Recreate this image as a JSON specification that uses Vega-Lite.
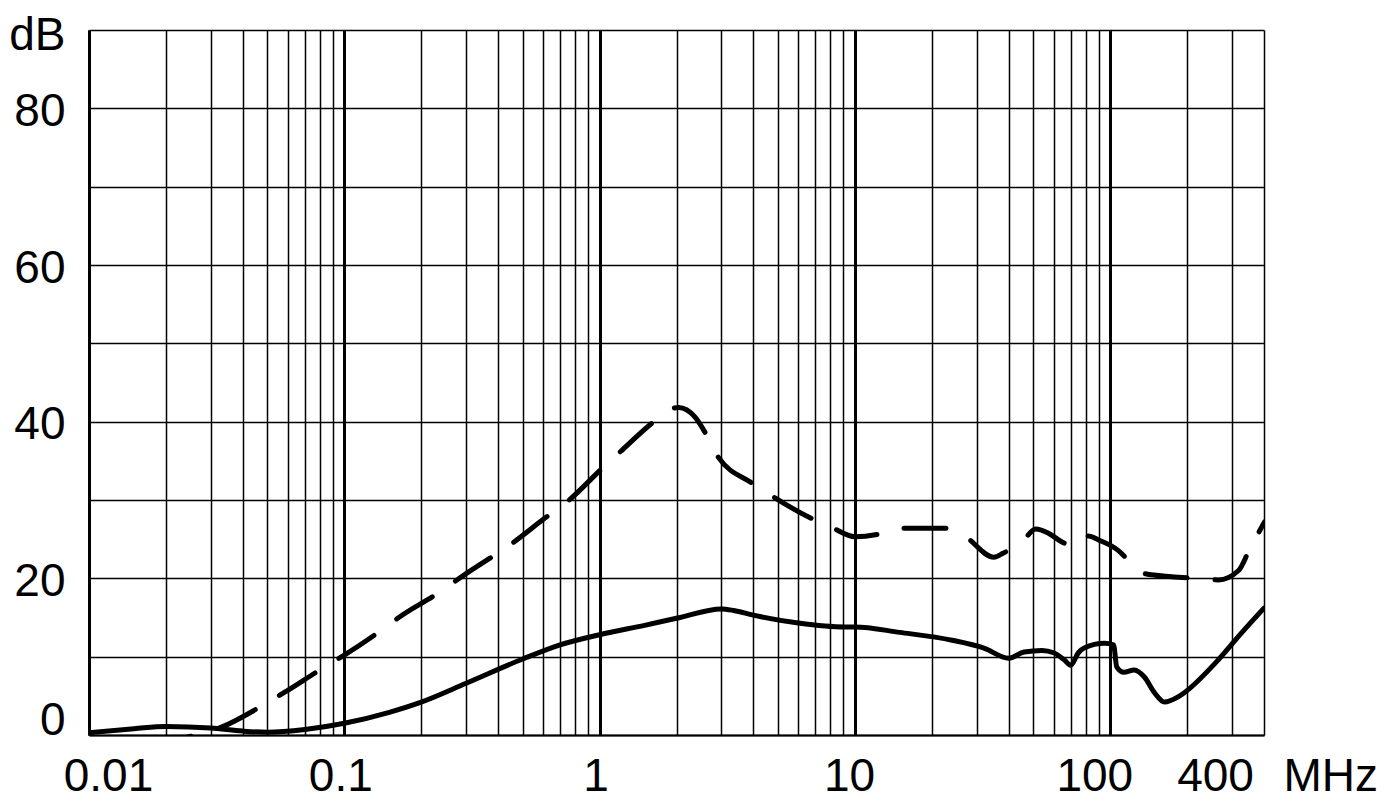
{
  "$schema": "https://vega.github.io/schema/vega-lite/v6.json",
  "width": 1175,
  "height": 705,
  "autosize": {"type": "none"},
  "padding": {"left": 89, "top": 30, "right": 120, "bottom": 73},
  "background": "white",
  "config": {
    "view": {"stroke": null},
    "font": "Liberation Sans"
  },
  "data": {
    "values": [
      {"f": 0.01, "db": 0.3, "s": "solid"},
      {"f": 0.015, "db": 0.8, "s": "solid"},
      {"f": 0.02, "db": 1.1, "s": "solid"},
      {"f": 0.03, "db": 0.9, "s": "solid"},
      {"f": 0.04, "db": 0.5, "s": "solid"},
      {"f": 0.05, "db": 0.35, "s": "solid"},
      {"f": 0.07, "db": 0.7, "s": "solid"},
      {"f": 0.1, "db": 1.5, "s": "solid"},
      {"f": 0.15, "db": 2.9, "s": "solid"},
      {"f": 0.2, "db": 4.2, "s": "solid"},
      {"f": 0.3, "db": 6.6, "s": "solid"},
      {"f": 0.5, "db": 9.7, "s": "solid"},
      {"f": 0.7, "db": 11.5, "s": "solid"},
      {"f": 1.0, "db": 12.8, "s": "solid"},
      {"f": 1.5, "db": 14.0, "s": "solid"},
      {"f": 2.0, "db": 14.9, "s": "solid"},
      {"f": 3.0, "db": 16.1, "s": "solid"},
      {"f": 3.35, "db": 15.9, "s": "solid"},
      {"f": 4.0, "db": 15.3, "s": "solid"},
      {"f": 6.0, "db": 14.3, "s": "solid"},
      {"f": 9.1, "db": 13.8, "s": "solid"},
      {"f": 10, "db": 13.8, "s": "solid"},
      {"f": 15, "db": 13.1, "s": "solid"},
      {"f": 24, "db": 12.1, "s": "solid"},
      {"f": 32, "db": 11.1, "s": "solid"},
      {"f": 40, "db": 9.8, "s": "solid"},
      {"f": 46, "db": 10.6, "s": "solid"},
      {"f": 54, "db": 10.8, "s": "solid"},
      {"f": 60, "db": 10.5, "s": "solid"},
      {"f": 66, "db": 9.6, "s": "solid"},
      {"f": 70, "db": 8.9, "s": "solid"},
      {"f": 75, "db": 10.5, "s": "solid"},
      {"f": 79, "db": 11.1, "s": "solid"},
      {"f": 95, "db": 11.7, "s": "solid"},
      {"f": 103, "db": 11.5, "s": "solid"},
      {"f": 106, "db": 8.7, "s": "solid"},
      {"f": 113, "db": 8.0, "s": "solid"},
      {"f": 124, "db": 8.3, "s": "solid"},
      {"f": 136, "db": 7.4, "s": "solid"},
      {"f": 149, "db": 5.4, "s": "solid"},
      {"f": 163, "db": 4.2, "s": "solid"},
      {"f": 185, "db": 4.9, "s": "solid"},
      {"f": 195, "db": 5.4, "s": "solid"},
      {"f": 265, "db": 9.6, "s": "solid"},
      {"f": 326, "db": 13.0, "s": "solid"},
      {"f": 400, "db": 16.2, "s": "solid"},
      {"f": 0.024, "db": -0.3, "s": "dashed"},
      {"f": 0.033, "db": 1.0, "s": "dashed"},
      {"f": 0.048, "db": 3.8, "s": "dashed"},
      {"f": 0.058, "db": 5.4, "s": "dashed"},
      {"f": 0.082, "db": 8.5, "s": "dashed"},
      {"f": 0.1, "db": 10.2, "s": "dashed"},
      {"f": 0.14, "db": 13.4, "s": "dashed"},
      {"f": 0.165, "db": 15.1, "s": "dashed"},
      {"f": 0.23, "db": 18.0, "s": "dashed"},
      {"f": 0.3, "db": 20.6, "s": "dashed"},
      {"f": 0.46, "db": 24.6, "s": "dashed"},
      {"f": 0.6, "db": 27.5, "s": "dashed"},
      {"f": 0.76, "db": 30.0, "s": "dashed"},
      {"f": 1.02, "db": 34.0, "s": "dashed"},
      {"f": 1.19, "db": 36.0, "s": "dashed"},
      {"f": 1.63, "db": 40.0, "s": "dashed"},
      {"f": 1.9, "db": 41.6, "s": "dashed"},
      {"f": 2.04, "db": 41.8, "s": "dashed"},
      {"f": 2.36, "db": 40.6, "s": "dashed"},
      {"f": 2.6, "db": 38.5, "s": "dashed"},
      {"f": 2.87, "db": 35.8, "s": "dashed"},
      {"f": 3.98, "db": 32.1, "s": "dashed"},
      {"f": 4.68, "db": 30.6, "s": "dashed"},
      {"f": 6.7, "db": 27.7, "s": "dashed"},
      {"f": 8.1, "db": 26.5, "s": "dashed"},
      {"f": 10, "db": 25.3, "s": "dashed"},
      {"f": 12.2, "db": 25.6, "s": "dashed"},
      {"f": 14.9, "db": 26.4, "s": "dashed"},
      {"f": 22.4, "db": 26.4, "s": "dashed"},
      {"f": 26.8, "db": 25.4, "s": "dashed"},
      {"f": 35, "db": 22.7, "s": "dashed"},
      {"f": 38, "db": 23.2, "s": "dashed"},
      {"f": 46, "db": 25.0, "s": "dashed"},
      {"f": 51, "db": 26.3, "s": "dashed"},
      {"f": 57, "db": 25.8, "s": "dashed"},
      {"f": 65, "db": 24.6, "s": "dashed"},
      {"f": 72, "db": 24.1, "s": "dashed"},
      {"f": 77, "db": 24.8, "s": "dashed"},
      {"f": 82, "db": 25.4, "s": "dashed"},
      {"f": 90, "db": 24.9, "s": "dashed"},
      {"f": 107, "db": 23.6, "s": "dashed"},
      {"f": 121, "db": 21.9, "s": "dashed"},
      {"f": 132, "db": 20.7, "s": "dashed"},
      {"f": 174, "db": 20.2, "s": "dashed"},
      {"f": 217, "db": 20.0, "s": "dashed"},
      {"f": 265, "db": 19.8, "s": "dashed"},
      {"f": 318, "db": 21.0, "s": "dashed"},
      {"f": 350, "db": 23.6, "s": "dashed"},
      {"f": 402, "db": 27.2, "s": "dashed"}
    ]
  },
  "encoding": {
    "x": {
      "field": "f",
      "type": "quantitative",
      "scale": {"type": "log", "domain": [0.01, 400], "nice": false},
      "axis": {
        "values": [0.01, 0.02, 0.03, 0.04, 0.05, 0.06, 0.07, 0.08, 0.09, 0.1, 0.2, 0.3, 0.4, 0.5, 0.6, 0.7, 0.8, 0.9, 1, 2, 3, 4, 5, 6, 7, 8, 9, 10, 20, 30, 40, 50, 60, 70, 80, 90, 100, 200, 300, 400],
        "labelExpr": "indexof([0.01, 0.1, 1, 10, 100, 400], datum.value) >= 0 ? format(datum.value, '~g') : ''",
        "grid": true,
        "gridColor": "#000",
        "gridOpacity": 1,
        "gridWidth": {"condition": {"test": "indexof([0.01, 0.1, 1, 10, 100], datum.value) >= 0", "value": 3}, "value": 1.5},
        "ticks": false,
        "tickSize": 0,
        "domain": true,
        "domainColor": "#000",
        "domainWidth": 2,
        "labelFont": "Liberation Sans",
        "labelFontSize": 46,
        "labelColor": "#000",
        "labelPadding": 19,
        "labelOverlap": false,
        "labelBound": false,
        "labelFlush": false,
        "labelOffset": {"condition": [
          {"test": "datum.value == 0.01", "value": 19},
          {"test": "datum.value == 400", "value": -49},
          {"test": "datum.value == 100", "value": -16},
          {"test": "datum.value == 10", "value": -6}
        ], "value": -4},
        "title": "MHz",
        "titleFont": "Liberation Sans",
        "titleFontSize": 46,
        "titleFontWeight": "normal",
        "titleColor": "#000",
        "titleAlign": "left",
        "titleBaseline": "top",
        "titleX": 1194,
        "titleY": 19,
        "titleAngle": 0
      }
    },
    "y": {
      "field": "db",
      "type": "quantitative",
      "scale": {"domain": [0, 90], "nice": false, "zero": false},
      "axis": {
        "values": [0, 10, 20, 30, 40, 50, 60, 70, 80, 90],
        "labelExpr": "datum.value == 90 ? 'dB' : (datum.value % 20 == 0 ? datum.label : '')",
        "grid": true,
        "gridColor": "#000",
        "gridOpacity": 1,
        "gridWidth": 1.5,
        "ticks": false,
        "tickSize": 0,
        "domain": true,
        "domainColor": "#000",
        "domainWidth": 3,
        "labelFont": "Liberation Sans",
        "labelFontSize": 46,
        "labelColor": "#000",
        "labelPadding": 24,
        "labelOverlap": false,
        "labelBound": false,
        "labelFlush": false,
        "labelOffset": {"condition": [
          {"test": "datum.value == 0", "value": -15},
          {"test": "datum.value == 90", "value": 5}
        ], "value": 3},
        "title": null
      }
    }
  },
  "layer": [
    {
      "transform": [{"filter": "datum.s == 'dashed'"}],
      "mark": {"type": "line", "clip": true, "color": "#000", "strokeWidth": 5, "strokeDash": [42, 28], "strokeDashOffset": 37, "strokeCap": "round", "interpolate": "monotone"}
    },
    {
      "transform": [{"filter": "datum.s == 'solid'"}],
      "mark": {"type": "line", "clip": true, "color": "#000", "strokeWidth": 5, "strokeCap": "round", "interpolate": "monotone"}
    }
  ]
}
